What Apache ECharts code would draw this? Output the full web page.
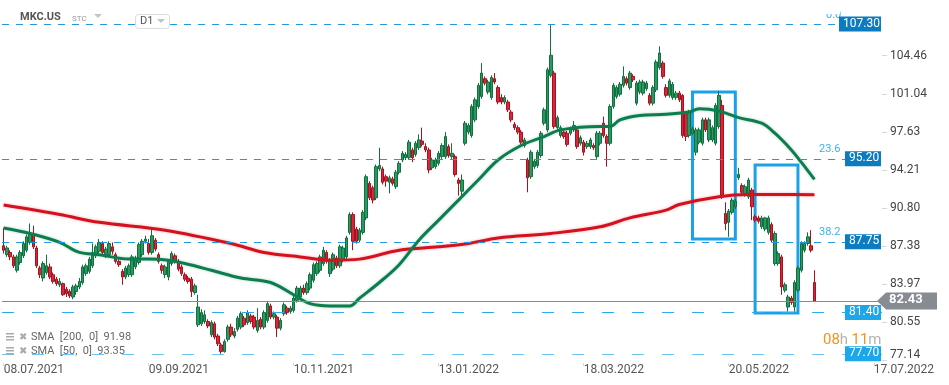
<!DOCTYPE html>
<html>
<head>
<meta charset="utf-8">
<script src="https://cdn.jsdelivr.net/npm/echarts@6/dist/echarts.min.js"></script>
<style>
  html, body { margin: 0; padding: 0; background: #fff; }
  #chart { width: 949px; height: 385px; }
</style>
</head>
<body>
<div id="chart"></div>
<script>
// x axis: one slot per trading day, labels every 44 bars
const slotCount = 267;
const tickIndex = [0, 44, 88, 132, 176, 220, 264];
const tickLabels = ['08.07.2021', '09.09.2021', '10.11.2021', '13.01.2022', '18.03.2022', '20.05.2022', '17.07.2022'];
const priceTicks = [77.14, 80.55, 83.97, 87.38, 90.80, 94.21, 97.63, 101.04, 104.46];

// [open, close, low, high]
const candles = [
  [87.4,87.0,86.7,89.0],[86.6,87.2,86.4,87.4],[86.8,86.4,86.1,87.0],[86.4,85.6,85.4,86.6],[85.2,86.4,85.0,86.6],
  [85.9,86.8,85.7,87.0],[86.5,87.6,86.3,87.8],[87.0,88.2,86.8,88.4],[87.7,88.5,87.5,89.4],[88.4,87.3,87.1,89.2],
  [87.2,85.6,85.4,87.4],[85.4,84.8,84.5,85.6],[84.5,85.8,84.2,86.0],[85.0,85.6,84.8,86.6],[85.5,84.6,84.4,85.8],
  [84.8,84.2,84.0,85.0],[84.4,84.0,83.8,84.6],[83.9,84.2,83.7,84.5],[84.0,83.0,82.9,84.1],[83.5,83.1,82.8,83.7],
  [83.3,82.9,82.7,83.5],[82.8,83.7,82.6,83.9],[83.3,83.8,83.0,84.0],[83.7,84.2,83.5,84.5],[84.1,85.5,83.9,85.7],
  [84.9,85.6,84.7,85.8],[85.1,86.2,84.9,86.4],[85.6,86.8,85.4,87.6],[86.5,87.3,86.3,87.5],[86.9,87.7,86.7,88.0],
  [87.6,86.8,86.6,87.8],[86.5,87.1,86.3,87.3],[86.6,87.6,86.4,87.8],[87.3,86.9,86.6,87.7],[86.6,86.0,85.8,86.8],
  [86.0,85.7,85.5,86.2],[85.1,84.6,83.9,85.3],[84.6,85.4,84.4,85.6],[84.8,85.6,84.6,85.8],[84.8,86.4,84.6,86.6],
  [85.5,86.3,85.3,86.5],[85.9,87.5,85.7,87.7],[86.6,87.8,86.4,88.0],[87.8,88.0,87.6,88.3],[87.6,86.8,86.6,88.0],
  [86.8,88.3,86.6,89.0],[87.9,87.1,86.9,88.1],[86.6,86.0,85.8,86.8],[85.6,85.2,84.9,85.8],[84.8,85.5,84.5,85.7],
  [84.6,86.0,84.3,86.2],
  [85.8,86.7,85.6,86.9],[86.5,86.0,85.8,86.7],[86.0,85.3,85.1,86.2],[85.5,84.9,84.7,85.7],[84.8,84.4,84.2,85.0],
  [84.5,84.2,84.0,84.7],[84.4,83.3,82.8,84.6],[83.2,83.8,83.0,84.0],
  [80.3,81.9,80.1,83.0],[80.4,81.4,80.2,81.7],[80.6,81.2,80.4,81.6],[80.6,80.2,80.0,80.8],[79.4,80.5,79.2,80.7],
  [80.4,79.2,79.0,80.6],[79.3,78.6,78.4,79.5],[78.5,77.9,77.7,78.7],[77.9,78.8,77.8,79.0],[79.0,80.1,78.8,80.3],
  [80.1,79.4,79.2,80.4],[79.3,79.7,79.1,80.0],[79.9,80.9,79.7,81.1],[80.1,81.3,79.9,81.5],[80.9,80.3,80.1,81.1],
  [80.5,81.4,80.3,81.6],[81.1,80.6,80.4,81.3],[81.0,80.1,79.9,81.2],[79.8,80.7,79.6,81.8],[80.8,80.1,79.9,81.0],
  [80.1,81.4,79.9,81.6],[80.7,82.2,80.5,82.4],[82.0,81.0,80.8,82.2],[81.0,81.3,80.8,81.5],[81.0,80.0,79.2,81.2],
  [80.0,80.7,79.8,80.9],[81.3,82.1,81.1,82.3],[81.8,81.4,81.2,82.0],[81.5,81.8,81.3,82.0],[81.6,82.7,81.4,82.9],
  [82.5,83.6,82.3,83.8],[82.8,83.6,82.6,83.8],[83.6,83.2,83.0,83.9],[83.2,84.0,83.0,84.2],[83.6,84.8,83.4,85.0],
  [84.3,85.7,84.1,85.9],[84.9,85.8,84.7,86.0],[85.2,86.4,85.0,86.6],[85.8,87.0,85.6,87.3],[86.8,86.0,85.8,87.0],
  [84.9,86.1,84.6,86.3],[85.3,86.6,85.1,86.8],[86.3,85.6,85.4,86.5],[85.6,87.3,85.4,87.5],[86.1,87.2,85.9,87.4],
  [86.4,88.1,86.2,88.3],[88.6,90.2,88.4,90.4],[90.2,87.8,87.0,90.4],[88.9,87.8,87.6,89.1],[87.9,88.8,87.7,89.0],
  [88.6,90.4,88.4,90.6],[89.9,93.6,89.7,93.8],[93.0,91.7,91.5,93.2],[92.6,91.5,91.2,92.8],[91.7,94.5,91.5,94.7],
  [94.3,94.6,94.1,96.2],[94.3,93.1,92.9,94.5],[93.6,93.2,92.7,93.8],[93.1,93.5,92.1,93.7],[93.4,93.0,92.8,93.6],
  [92.7,94.0,92.5,94.2],[94.0,94.8,93.8,95.0],[95.1,95.7,94.9,95.9],[95.3,95.6,95.1,95.8],[95.3,96.7,95.1,96.9],
  [96.0,95.3,94.9,96.2],[95.6,96.6,95.4,96.8],[96.2,96.9,96.0,97.4],[96.8,96.5,96.3,98.0],[96.3,96.0,95.8,96.6],
  [96.0,94.2,93.9,96.2],[94.4,95.1,94.2,95.3],[94.5,95.1,94.3,95.3],[94.8,95.7,94.6,95.9],[95.4,96.4,95.2,96.6],
  [95.4,97.2,95.2,97.6],[96.3,95.5,95.3,96.5],[95.4,95.7,95.2,96.6],[95.4,93.8,93.6,95.6],[93.3,93.0,91.9,93.5],
  [92.3,93.3,91.8,93.8],[96.6,98.4,96.4,98.6],[97.6,98.2,97.4,98.4],[97.3,99.9,97.1,100.1],[98.7,100.5,98.5,100.7],
  [99.9,101.8,99.7,102.0],[100.8,102.9,100.6,103.8],[102.4,102.0,101.8,102.6],[101.2,102.1,101.0,102.3],[100.7,102.5,100.5,102.7],
  [102.4,102.1,101.9,102.9],[101.6,100.3,100.1,101.8],
  [100.7,100.3,100.1,101.0],[100.3,100.7,100.1,100.9],[100.3,99.6,99.4,100.5],[99.4,98.7,98.5,99.6],[98.3,98.0,97.8,98.5],
  [98.0,97.6,97.4,98.2],[97.6,96.7,96.5,97.8],[96.4,96.9,96.2,97.1],[95.1,93.5,92.2,95.3],[93.6,95.8,93.4,96.0],
  [94.5,95.0,94.3,95.2],[94.6,95.8,94.4,96.0],[95.5,97.5,95.3,97.7],[98.4,99.6,98.2,99.8],[97.8,103.2,97.6,103.4],
  [102.7,104.5,102.5,107.2],[102.9,98.1,97.9,103.1],[98.0,98.9,97.8,99.1],[97.3,98.0,97.1,98.2],[97.6,97.2,97.0,97.8],
  [97.5,96.5,96.3,97.7],[97.5,97.9,97.3,98.1],[97.8,98.2,97.6,98.6],[97.8,96.3,96.1,98.0],[96.6,97.1,96.4,97.3],
  [96.7,95.8,95.5,96.9],[96.3,96.6,96.1,96.8],[96.3,96.9,96.1,97.1],[96.4,96.2,96.0,96.6],[95.4,97.5,95.2,97.7],
  [96.6,97.5,96.4,97.7],[98.4,97.3,97.1,99.0],[97.2,96.6,94.5,97.4],[96.6,99.9,96.4,100.1],[99.9,101.8,99.7,102.0],
  [100.8,101.6,100.6,101.8],[101.0,101.9,100.8,102.1],[101.8,102.6,101.6,103.5],[102.4,102.0,101.8,102.6],[101.6,102.9,101.4,103.1],
  [102.6,102.3,102.1,102.8],[100.2,102.0,100.0,102.2],[101.2,102.1,101.0,102.3],[101.1,102.1,100.9,102.3],[101.5,102.0,101.3,102.2],
  [100.9,100.2,100.0,101.1],[100.2,101.6,100.0,101.8],[101.4,103.9,101.2,104.1],[103.4,104.7,103.2,105.3],[103.8,102.6,102.4,104.0],
  [101.6,100.9,100.7,101.9],[100.9,102.2,100.7,102.4],[100.7,101.9,100.5,102.1],[100.7,101.1,100.5,101.3],[101.1,100.5,100.3,101.3],
  [100.9,97.3,97.1,101.0],[99.3,97.2,96.8,99.5],[97.3,99.4,97.1,99.6],[97.5,97.9,97.3,98.1],[95.8,97.8,95.5,98.0],
  [96.7,97.8,96.5,98.0],[96.6,98.7,96.4,98.9],[98.7,97.8,97.6,98.9],[96.9,98.7,96.7,98.9],[96.9,98.0,96.7,98.2],
  [96.6,100.0,96.4,100.2],[98.1,100.9,97.9,101.3],[100.0,91.8,91.6,100.5],[90.3,89.4,88.8,91.3],[89.5,90.5,88.2,90.7],
  [90.4,91.5,90.2,91.7],[90.9,91.4,90.7,91.6],[93.5,93.8,93.3,94.4],[92.8,92.2,92.0,93.0],[92.0,92.7,91.8,92.9],
  [91.8,93.3,91.6,93.5],[92.4,90.9,89.7,92.6],[90.0,89.7,89.5,90.2],[89.9,89.6,89.4,90.1],[89.1,89.9,88.9,90.1],
  [88.9,89.9,88.7,90.0],[88.6,89.9,88.4,90.1],[89.3,87.9,87.7,89.5],[85.8,88.5,85.6,88.7],[85.8,86.7,85.6,86.9],
  [86.4,83.7,83.0,86.6],[83.4,83.9,83.2,84.1],[81.9,82.8,81.5,83.0],[82.7,82.3,82.1,82.9],[81.9,84.1,81.5,84.3],
  [83.4,85.4,83.2,85.6],[85.2,87.6,85.0,87.8],[87.0,87.6,86.8,87.8],[87.6,88.2,87.4,88.6],[87.4,87.0,86.8,88.8],
  [84.1,82.43,82.4,85.2]
];

// moving averages: [bar index, value]
const sma200 = [[0,91.05],[17,90.2],[29,89.5],[49,88.8],[69,87.6],[79,86.8],[90,86.4],[100,86.1],[108,86.2],
  [120,87.0],[132,87.3],[141,87.6],[150,88.1],[166,88.5],[181,89.1],[190,89.9],[201,90.6],[205,91.1],
  [217,91.8],[226,92.0],[235,92.0],[246,91.98]];
const sma50 = [[0,89.0],[8,88.5],[17,87.7],[23,86.8],[29,86.6],[38,86.2],[44,86.2],[50,86.1],[55,85.8],
  [63,85.2],[72,84.5],[81,84.1],[88,83.0],[93,82.2],[99,82.0],[105,82.0],[108,82.7],[114,84.1],[120,85.7],
  [126,87.9],[132,89.7],[138,91.5],[144,93.3],[150,95.1],[157,96.4],[164,97.2],[169,97.8],[181,98.1],
  [184,98.1],[187,98.7],[193,99.1],[201,99.2],[208,99.4],[211,99.7],[217,99.5],[223,98.9],[230,98.4],
  [234,97.5],[239,96.0],[242,94.9],[246,93.35]];

// horizontal levels
const levels = [107.30, 95.20, 87.75, 81.40, 77.70];
const fibLabels = ['0.0', '23.6', '38.2'];
const lastPrice = 82.43;
const boxes = [[209, 101.2, 222, 88.0], [228, 94.65, 241, 81.36]];

const categories = Array.from({ length: slotCount }, (_, i) => String(i));
const font = 'Roboto, "Noto Sans", sans-serif';

const chart = echarts.init(document.getElementById('chart'));

const levelStyle = [
  { color: '#1c9be2', type: [7, 7] },
  { color: '#1c9be2', type: [7, 7] },
  { color: '#1c9be2', type: [7, 7] },
  { color: '#2fabed', type: [12, 18] },
  { color: '#6cc6f3', type: [12, 18] }
];

chart.setOption({
  animation: false,
  grid: { left: 2, right: 67, top: 0, bottom: 22 },
  xAxis: {
    type: 'category',
    data: categories,
    boundaryGap: true,
    axisLine: { show: false },
    axisTick: {
      show: true, length: 3, alignWithLabel: true,
      interval: (i) => tickIndex.includes(i),
      lineStyle: { color: '#d8d8d8' }
    },
    axisLabel: {
      interval: (i) => tickIndex.includes(i),
      formatter: (v, i) => tickLabels[tickIndex.indexOf(i)] || '',
      align: 'left', margin: 1,
      color: '#555', fontSize: 12, fontFamily: font
    },
    splitLine: { show: false }
  },
  yAxis: {
    type: 'value',
    position: 'right',
    min: 76.875,
    max: 109.46,
    scale: true,
    axisLine: { show: false },
    axisTick: { show: true, length: 5, customValues: priceTicks, lineStyle: { color: '#d8d8d8' } },
    axisLabel: {
      customValues: priceTicks,
      margin: 8,
      color: '#444', fontSize: 12, fontFamily: font,
      formatter: (v) => v < 78 ? '{b|' + v.toFixed(2) + '}' : v.toFixed(2),
      rich: { b: { color: '#444', fontSize: 12, fontFamily: font, padding: [0, 0, 10, 0] } }
    },
    splitLine: { show: false }
  },
  series: [
    {
      type: 'candlestick',
      data: candles,
      barWidth: 3,
      itemStyle: {
        color: '#2a9863', color0: '#d7263b',
        borderColor: '#12703f', borderColor0: '#a8121f', borderWidth: 1
      },
      markLine: {
        silent: true, symbol: 'none', animation: false,
        label: { show: false },
        data: levels.map((v, i) => ({ yAxis: v, lineStyle: Object.assign({ width: 1 }, levelStyle[i]) }))
          .concat([{ yAxis: lastPrice, lineStyle: { color: '#868b90', type: 'solid', width: 1 } }])
      },
      markArea: {
        silent: true,
        itemStyle: { color: 'rgba(0,0,0,0)', borderColor: '#1aa2e8', borderWidth: 3 },
        data: boxes.map(b => [{ coord: [b[0], b[1]] }, { coord: [b[2], b[3]] }])
      },
      z: 3
    },
    {
      type: 'line', name: 'SMA 200', data: sma200, smooth: 0.35, showSymbol: false,
      lineStyle: { color: '#d4111f', width: 3, shadowColor: 'rgba(212,17,31,0.35)', shadowBlur: 3 },
      z: 4
    },
    {
      type: 'line', name: 'SMA 50', data: sma50, smooth: 0.35, showSymbol: false,
      lineStyle: { color: '#0d7d4f', width: 3, shadowColor: 'rgba(13,125,79,0.35)', shadowBlur: 3 },
      z: 4
    }
  ]
});

// overlays placed through the value axis
const py = (v) => chart.convertToPixel({ yAxisIndex: 0 }, v);
const g = [];

levels.forEach((v, i) => {
  const y = py(v);
  const dark = i < 3;
  const w = i === 0 ? 42 : 36;
  g.push({
    type: 'rect', left: 881 - w, top: y - 7.5, z: 20,
    shape: { width: w, height: 15 },
    style: { fill: dark ? '#0c7cc2' : '#1ba7ea' }
  });
  g.push({
    type: 'text', left: 881 - w + 4, top: y - 6.5, z: 21,
    style: { text: v.toFixed(2), fill: '#fff', font: '12px ' + font }
  });
});

fibLabels.forEach((t, i) => {
  const y = py(levels[i]);
  g.push({
    type: 'text', left: i === 0 ? 826 : 819, top: y - (i === 0 ? 14 : 15), z: 19,
    style: { text: t, fill: '#3ab2f0', font: '11px ' + font }
  });
});
// the top fib label sits mostly above the chart edge
g.push({ type: 'rect', left: 818, top: 0, z: 19.5, shape: { width: 22, height: 14 }, style: { fill: '#fff' } });

// last price tag
const yl = py(lastPrice);
g.push({
  type: 'polygon', z: 20,
  shape: { points: [[877, yl], [886, yl - 8.5], [937, yl - 8.5], [937, yl + 8.5], [886, yl + 8.5]] },
  style: { fill: '#868c91' }
});
g.push({
  type: 'text', left: 889, top: yl - 7.5, z: 21,
  style: { text: lastPrice.toFixed(2), fill: '#fff', font: 'bold 13px ' + font }
});

// countdown
g.push({
  type: 'text', left: 823, top: 333, z: 21,
  style: {
    text: '{o|08}{g|h} {o|11}{g|m}',
    rich: {
      o: { fill: '#f5921e', fontSize: 15, fontFamily: font },
      g: { fill: '#b3b3b3', fontSize: 15, fontFamily: font }
    }
  }
});

// header
g.push({ type: 'text', left: 20, top: 12, z: 21, style: { text: 'MKC.US', fill: '#555', font: 'bold 11px ' + font } });
g.push({ type: 'text', left: 72, top: 15, z: 21, style: { text: 'STC', fill: '#9a9a9a', font: '8px ' + font } });
g.push({ type: 'polygon', z: 21, shape: { points: [[94, 14], [102, 14], [98, 18]] }, style: { fill: '#c4c4c4' } });
g.push({ type: 'rect', left: 135, top: 14, z: 20, shape: { width: 34, height: 14, r: 3 }, style: { fill: '#fff', stroke: '#dcdcdc', lineWidth: 1 } });
g.push({ type: 'text', left: 140, top: 16, z: 21, style: { text: 'D1', fill: '#555', font: '11px ' + font } });
g.push({ type: 'polygon', z: 21, shape: { points: [[157, 19], [165, 19], [161, 23]] }, style: { fill: '#c4c4c4' } });

// indicator legend
[['SMA  [200,  0]  91.98', 338], ['SMA  [50,  0]  93.35', 352]].forEach(([t, y]) => {
  g.push({ type: 'rect', left: 6, top: y - 5, z: 21, shape: { width: 8, height: 1.5 }, style: { fill: '#aaa' } });
  g.push({ type: 'rect', left: 6, top: y - 2, z: 21, shape: { width: 8, height: 1.5 }, style: { fill: '#aaa' } });
  g.push({ type: 'rect', left: 6, top: y + 1, z: 21, shape: { width: 8, height: 1.5 }, style: { fill: '#aaa' } });
  g.push({ type: 'text', left: 19, top: y - 6, z: 21, style: { text: '✖', fill: '#aaa', font: '10px "DejaVu Sans"' } });
  g.push({ type: 'text', left: 31, top: y - 6.5, z: 21, style: { text: t, fill: '#666', font: '11px ' + font } });
});

chart.setOption({ graphic: g });
</script>
</body>
</html>
